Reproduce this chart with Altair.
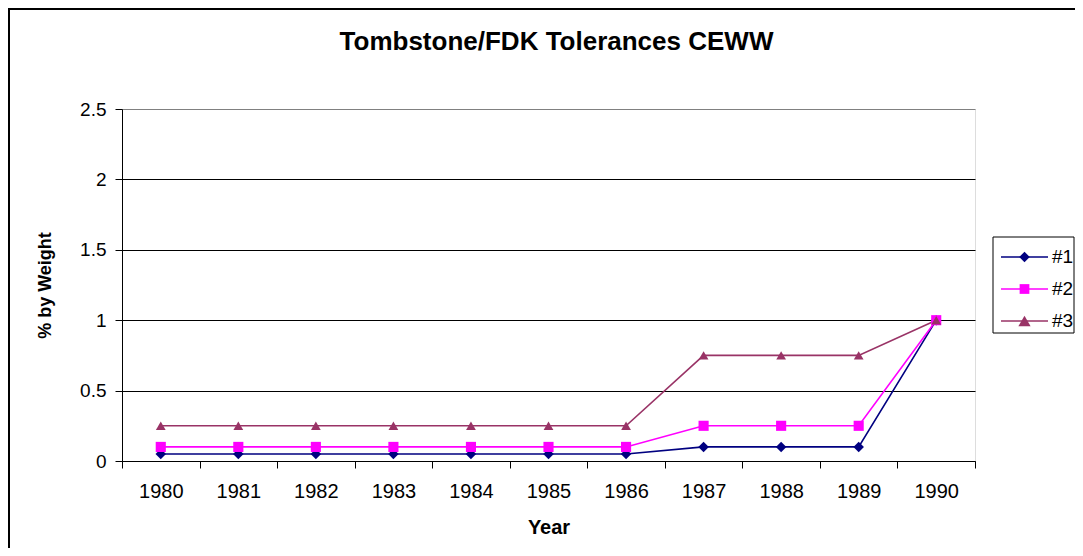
import altair as alt
import pandas as pd

years = ["1980", "1981", "1982", "1983", "1984", "1985", "1986", "1987", "1988", "1989", "1990"]
series_names = ["#1", "#2", "#3"]
s1 = [0.05, 0.05, 0.05, 0.05, 0.05, 0.05, 0.05, 0.1, 0.1, 0.1, 1.0]
s2 = [0.1, 0.1, 0.1, 0.1, 0.1, 0.1, 0.1, 0.25, 0.25, 0.25, 1.0]
s3 = [0.25, 0.25, 0.25, 0.25, 0.25, 0.25, 0.25, 0.75, 0.75, 0.75, 1.0]
colors = ["#000080", "#FF00FF", "#993366"]
shapes = ["diamond", "square", "triangle-up"]
marker_sizes = [110, 95, 150]
y_ticks = [0, 0.5, 1, 1.5, 2, 2.5]

rows = []
for name, vals in zip(series_names, [s1, s2, s3]):
    for yr, v in zip(years, vals):
        rows.append({"year": yr, "series": name, "value": v})
df = pd.DataFrame(rows)

FONT = "Liberation Sans"
W, H = 853, 352

x_enc = alt.X(
    "year:O", sort=years,
    scale=alt.Scale(type="band", paddingInner=0, paddingOuter=0),
    axis=alt.Axis(
        title="Year", labelAngle=0, tickBand="extent", tickSize=7,
        tickColor="black", domainColor="black", labelColor="black",
        labelFont=FONT, labelFontSize=20, labelBaseline="alphabetic", labelPadding=29,
        titleFont=FONT, titleFontSize=20, titleFontWeight="bold", titleColor="black",
        titleBaseline="alphabetic", titleY=72, grid=False,
    ),
)
y_enc = alt.Y(
    "value:Q",
    scale=alt.Scale(domain=[0, 2.5], nice=False),
    axis=alt.Axis(
        title="% by Weight", values=y_ticks, format="~g", tickSize=7,
        tickColor="black", domainColor="black", labelColor="black",
        labelFont=FONT, labelFontSize=19, labelPadding=9,
        grid=True,
        gridColor=alt.condition("datum.value == 2.5", alt.value("#808080"), alt.value("black")),
        gridWidth=1,
        titleFont=FONT, titleFontSize=18, titleFontWeight="bold", titleColor="black",
        titleAngle=270, titleX=-77, titleY=H / 2, titleAlign="center", titleBaseline="middle",
    ),
)
color_enc = alt.Color("series:N", scale=alt.Scale(domain=series_names, range=colors), legend=None)
shape_enc = alt.Shape("series:N", scale=alt.Scale(domain=series_names, range=shapes), legend=None)
size_enc = alt.Size("series:N", scale=alt.Scale(domain=series_names, range=marker_sizes), legend=None)

base = alt.Chart(df)
lines = base.mark_line(strokeWidth=1.6).encode(x=x_enc, y=y_enc, color=color_enc, detail="series:N")
points = base.mark_point(filled=True, opacity=1).encode(
    x=x_enc, y=y_enc, color=color_enc, shape=shape_enc, size=size_enc
)

# legend (manual, Excel style: line with marker)
leg_df = pd.DataFrame({"s": series_names})
legend_box = alt.Chart(leg_df.head(1)).mark_rect(
    fill="white", stroke="black", strokeWidth=1
).encode(x=alt.value(871), x2=alt.value(952), y=alt.value(128), y2=alt.value(224))
leg_layers = [legend_box]
row_y = [148, 180, 212]
for i, name in enumerate(series_names):
    d = leg_df[leg_df["s"] == name]
    leg_layers.append(
        alt.Chart(d).mark_rule(color=colors[i], strokeWidth=1.6).encode(
            x=alt.value(879), x2=alt.value(926), y=alt.value(row_y[i])
        )
    )
    leg_layers.append(
        alt.Chart(d).mark_point(shape=shapes[i], filled=True, color=colors[i],
                                size=marker_sizes[i], opacity=1).encode(
            x=alt.value(902.5), y=alt.value(row_y[i])
        )
    )
    leg_layers.append(
        alt.Chart(d).mark_text(align="left", baseline="middle", font=FONT, fontSize=19, color="black").encode(
            x=alt.value(930), y=alt.value(row_y[i]), text="s:N"
        )
    )

outer = alt.Chart(leg_df.head(1)).mark_rect(
    fill="transparent", stroke="black", strokeWidth=2
).encode(x=alt.value(-113), x2=alt.value(1200), y=alt.value(-100), y2=alt.value(700))

chart = alt.layer(outer, lines, points, *leg_layers).properties(
    width=W, height=H,
    title=alt.TitleParams(
        "Tombstone/FDK Tolerances CEWW", font=FONT, fontSize=26, fontWeight="bold",
        color="black", anchor="middle", frame="group", baseline="alphabetic", offset=0, dy=68, dx=8,
    ),
    autosize=alt.AutoSizeParams(type="none"),
    padding={"left": 114, "top": 101, "right": 100, "bottom": 87},
).configure_view(stroke="#808080", strokeWidth=1).configure(background="white")

chart.save("out.html", embed_options={"renderer": "svg", "actions": False})
